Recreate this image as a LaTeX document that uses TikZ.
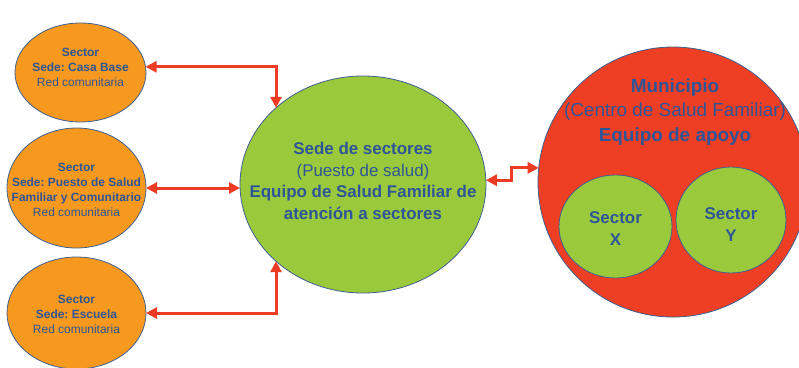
\documentclass[tikz,border=0pt]{standalone}
\usepackage{fontspec}
\setmainfont{Liberation Sans}
\usetikzlibrary{shapes.geometric,arrows.meta}
\definecolor{orng}{HTML}{F7991E}
\definecolor{grn}{HTML}{9ACA3C}
\definecolor{redc}{HTML}{EE3E24}
\definecolor{arr}{HTML}{EE3B24}
\definecolor{txtblue}{HTML}{2E5597}
\definecolor{edge}{HTML}{41608F}
\tikzset{
  oval/.style={ellipse, draw=edge, line width=0.8bp, inner sep=0pt, outer sep=0pt},
  lbl/.style={align=center, text=txtblue, inner sep=0pt},
  small/.style={font=\fontsize{12}{15}\selectfont},
  mid/.style={font=\fontsize{17}{21.5}\selectfont},
  big/.style={font=\fontsize{19}{24.5}\selectfont},
  conn/.style={draw=arr, line width=3bp, {Triangle[length=11bp,width=11bp]}-{Triangle[length=11bp,width=11bp]}}
}
\begin{document}
\frenchspacing
\begin{tikzpicture}[x=1bp,y=-1bp]
\clip (0,0) rectangle (799,367);
\fill[white] (0,0) rectangle (799,367);
% left sector ellipses
\node[oval, fill=orng, minimum width=131bp, minimum height=99bp] (s1) at (80.5,72.5) {};
\node[lbl, small] (t1) at (80.5,67) {\textbf{Sector}\\\textbf{Sede: Casa Base}\\Red comunitaria};
\node[oval, fill=orng, minimum width=139bp, minimum height=120bp] (s2) at (76.5,188) {};
\node[lbl, small] (t2) at (76.5,190) {\textbf{Sector}\\\textbf{Sede: Puesto de Salud}\\\textbf{Familiar y Comunitario}\\Red comunitaria};
\node[oval, fill=orng, minimum width=139bp, minimum height=112bp] (s3) at (76.5,313) {};
\node[lbl, small] (t3) at (76.5,314) {\textbf{Sector}\\\textbf{Sede: Escuela}\\Red comunitaria};
% central ellipse
\node[oval, fill=grn, minimum width=246bp, minimum height=217bp] (main) at (363,184.5) {};
\node[lbl, mid] (tm) at (363,181) {\textbf{Sede de sectores}\\(Puesto de salud)\\\textbf{Equipo de Salud Familiar de}\\\textbf{atención a sectores}};
% municipio
\node[oval, fill=redc, minimum width=270bp, minimum height=270bp] (muni) at (673,182) {};
\node[lbl, big] (tmu) at (675,112) {\textbf{Municipio}\\(Centro de Salud Familiar)\\\textbf{Equipo de apoyo}};
\node[oval, fill=grn, minimum width=113bp, minimum height=103bp] (sx) at (615.5,226.5) {};
\node[lbl, mid, font=\bfseries\fontsize{17}{22}\selectfont] (tx) at (615.5,229) {Sector\\X};
\node[oval, fill=grn, minimum width=110bp, minimum height=106bp] (sy) at (731,220) {};
\node[lbl, mid, font=\bfseries\fontsize{17}{22}\selectfont] (ty) at (731,224.5) {Sector\\Y};
% connectors
\draw[conn] (s1.5) -| (main.north west);
\draw[conn] (s2.east) -- (s2.east -| main.west);
\draw[conn] (s3.east) -| (main.south west);
\draw[conn] (main.2) -- ++(26,0) |- (muni.174);
\end{tikzpicture}
\end{document}
